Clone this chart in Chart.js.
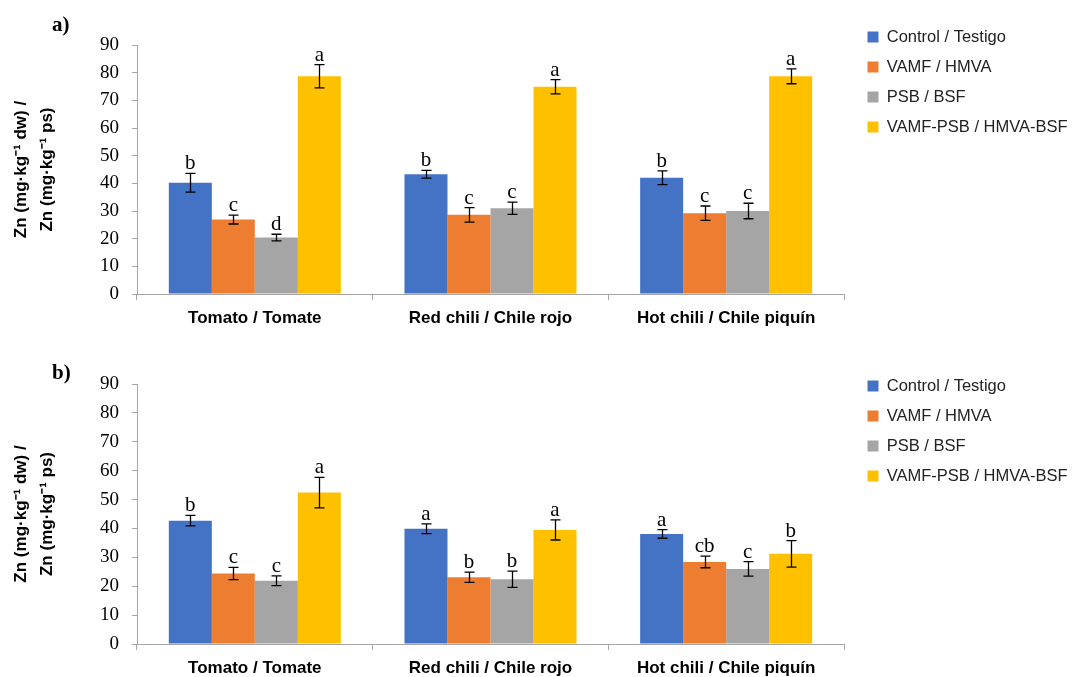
<!DOCTYPE html>
<html>
<head>
<meta charset="utf-8">
<script src="https://cdn.jsdelivr.net/npm/chart.js@4.4.1/dist/chart.umd.min.js"></script>
<style>
  html, body { margin: 0; padding: 0; background: #fff; overflow: hidden; }
  #wrap { position: relative; width: 1073px; height: 677px; }
  canvas { position: absolute; left: 0; }
  .panel { position: absolute; left: 52px; font: bold 21px "Liberation Serif", "Times New Roman", serif; color: #000; line-height: 1; }
</style>
</head>
<body>
<div id="wrap">
  <canvas id="chartA" width="1073" height="338" style="top:0px"></canvas>
  <canvas id="chartB" width="1073" height="339" style="top:338px"></canvas>
  <div class="panel" style="top:14px">a)</div>
  <div class="panel" style="top:362px">b)</div>
</div>
<script>
// ---- data ----
const categories = ['Tomato / Tomate', 'Red chili / Chile rojo', 'Hot chili / Chile piquín'];
const seriesNames = ['Control / Testigo', 'VAMF / HMVA', 'PSB / BSF', 'VAMF-PSB / HMVA-BSF'];
const yAxisTitle = ['Zn (mg·kg⁻¹ dw) /', 'Zn (mg·kg⁻¹ ps)'];
const yMin = 0, yMax = 90, yStep = 10;

// panel a)
const aControl = [40.2, 43.3, 42.0];
const aControlErr = [3.4, 1.4, 2.5];
const aControlLetters = ['b', 'b', 'b'];
const aVamf = [26.9, 28.6, 29.2];
const aVamfErr = [1.6, 2.6, 2.6];
const aVamfLetters = ['c', 'c', 'c'];
const aPsb = [20.4, 31.0, 30.0];
const aPsbErr = [1.2, 2.2, 2.8];
const aPsbLetters = ['d', 'c', 'c'];
const aBoth = [78.7, 74.9, 78.7];
const aBothErr = [4.2, 2.6, 2.7];
const aBothLetters = ['a', 'a', 'a'];

// panel b)
const bControl = [42.7, 39.9, 38.1];
const bControlErr = [1.8, 1.7, 1.5];
const bControlLetters = ['b', 'a', 'a'];
const bVamf = [24.4, 23.1, 28.4];
const bVamfErr = [2.1, 1.8, 2.0];
const bVamfLetters = ['c', 'b', 'cb'];
const bPsb = [21.9, 22.4, 26.0];
const bPsbErr = [1.7, 2.8, 2.5];
const bPsbLetters = ['c', 'b', 'c'];
const bBoth = [52.4, 39.5, 31.2];
const bBothErr = [5.3, 3.5, 4.6];
const bBothLetters = ['a', 'a', 'b'];

// ---- styles ----
const colors = ['#4472C4', '#ED7D31', '#A5A5A5', '#FFC000'];
const axisColor = '#A6A6A6';

const errorBarPlugin = {
  id: 'errorBars',
  afterDatasetsDraw(chart) {
    const ctx = chart.ctx;
    const y = chart.scales.y;
    ctx.save();
    chart.data.datasets.forEach((ds, i) => {
      const meta = chart.getDatasetMeta(i);
      meta.data.forEach((bar, j) => {
        const v = ds.data[j], e = ds.errors[j];
        const yt = y.getPixelForValue(v + e);
        const yb = y.getPixelForValue(v - e);
        const x = Math.round(bar.x) + 0.5;
        ctx.strokeStyle = '#000';
        ctx.lineWidth = 1.3;
        ctx.beginPath();
        ctx.moveTo(x, yt); ctx.lineTo(x, yb);
        ctx.moveTo(x - 5, yt); ctx.lineTo(x + 5, yt);
        ctx.moveTo(x - 5, yb); ctx.lineTo(x + 5, yb);
        ctx.stroke();
        ctx.fillStyle = '#000';
        ctx.font = '21px "Liberation Serif", "Times New Roman", serif';
        ctx.textAlign = 'center';
        ctx.textBaseline = 'alphabetic';
        ctx.fillText(ds.letters[j], bar.x, yt - 4);
      });
    });
    ctx.restore();
  }
};

const legendShiftPlugin = {
  id: 'legendShift',
  beforeDraw(chart) {
    if (chart.legend) {
      const w = chart.legend.width;
      chart.legend.left = chart.chartArea.right + 10;
      chart.legend.right = chart.legend.left + w;
    }
  }
};

function makeChart(id, series, errs, letters, topGap, xAxisHeight, legendTitlePad) {
  const datasets = seriesNames.map((name, i) => ({
    label: name,
    data: series[i],
    errors: errs[i],
    letters: letters[i],
    backgroundColor: colors[i],
    borderWidth: 0,
    barPercentage: 1.0,
    categoryPercentage: 0.73
  }));
  return new Chart(document.getElementById(id), {
    type: 'bar',
    data: { labels: categories, datasets },
    plugins: [errorBarPlugin, legendShiftPlugin],
    options: {
      responsive: false,
      animation: false,
      devicePixelRatio: 1,
      layout: { padding: { left: 0, right: 10, top: 0, bottom: 0 } },
      plugins: {
        tooltip: { enabled: false },
        legend: {
          position: 'right',
          align: 'start',
          maxWidth: 219,
          title: { display: true, text: ' ', font: { size: 10 }, padding: { top: legendTitlePad, bottom: 0 } },
          labels: {
            boxWidth: 11,
            boxHeight: 11,
            padding: 13.5,
            color: '#222',
            font: { family: '"Liberation Sans", Arial, sans-serif', size: 16.5 }
          }
        }
      },
      scales: {
        x: {
          type: 'category',
          offset: true,
          grid: { display: true, offset: true, drawOnChartArea: false, drawTicks: true, tickLength: 6, color: axisColor },
          border: { display: true, color: axisColor, width: 1 },
          ticks: {
            color: '#000',
            padding: 8,
            maxRotation: 0,
            autoSkip: false,
            font: { family: '"Liberation Sans", Arial, sans-serif', size: 17, weight: 'bold' }
          },
          afterFit: s => { s.height = xAxisHeight; }
        },
        y: {
          min: yMin,
          max: yMax,
          ticks: {
            stepSize: yStep,
            color: '#000',
            padding: 13,
            font: { family: '"Liberation Serif", "Times New Roman", serif', size: 19 }
          },
          grid: { display: true, drawOnChartArea: false, drawTicks: true, tickLength: 5, color: axisColor },
          border: { display: true, color: axisColor, width: 1 },
          title: {
            display: true,
            text: yAxisTitle,
            color: '#000',
            padding: { top: 8, bottom: 0 },
            font: { family: '"Liberation Sans", Arial, sans-serif', size: 17, weight: 'bold', lineHeight: 1.53 }
          },
          afterFit: s => { s.width = 137; }
        },
        xTop: {
          type: 'linear',
          position: 'top',
          display: true,
          grid: { display: false },
          border: { display: false },
          ticks: { display: false },
          afterFit: s => { s.height = topGap; }
        }
      }
    }
  });
}

makeChart('chartA',
  [aControl, aVamf, aPsb, aBoth],
  [aControlErr, aVamfErr, aPsbErr, aBothErr],
  [aControlLetters, aVamfLetters, aPsbLetters, aBothLetters],
  45, 44, 3.25);

makeChart('chartB',
  [bControl, bVamf, bPsb, bBoth],
  [bControlErr, bVamfErr, bPsbErr, bBothErr],
  [bControlLetters, bVamfLetters, bPsbLetters, bBothLetters],
  46, 33, 14.25);
</script>
</body>
</html>
